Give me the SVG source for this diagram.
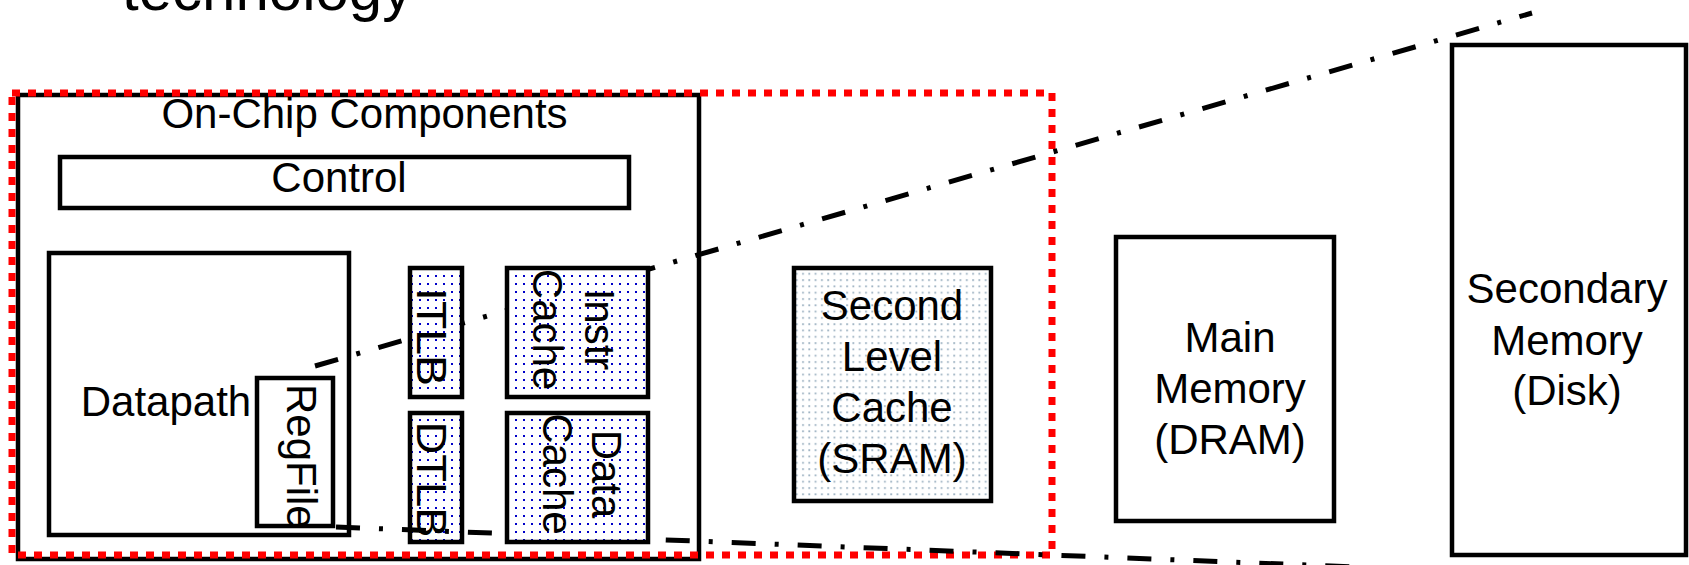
<svg xmlns="http://www.w3.org/2000/svg" width="1689" height="565" viewBox="0 0 1689 565">
<style>
  .box{fill:#ffffff;stroke:#000000;stroke-width:4.5}
  .dotbox{fill:url(#bluedots);stroke:#000000;stroke-width:4.5}
  .l2box{fill:url(#graydots);stroke:#000000;stroke-width:4.5}
  .t{font-family:"Liberation Sans",Arial,sans-serif;font-size:42px;fill:#000000}
  .m{text-anchor:middle}
  .link{fill:none;stroke:#000000;stroke-width:5;stroke-dasharray:24 19 4 19}
  .redframe{fill:none;stroke:#ff0000;stroke-width:7;stroke-dasharray:8 8}
</style>
<defs>
  <pattern id="bluedots" x="0" y="0" width="8" height="8" patternUnits="userSpaceOnUse">
    <rect width="8" height="8" fill="#ffffff"/>
    <rect x="3" y="3" width="2" height="2" fill="#0000c8"/>
  </pattern>
  <pattern id="graydots" x="0" y="0" width="6.3" height="6.3" patternUnits="userSpaceOnUse">
    <rect width="6.3" height="6.3" fill="#ffffff"/>
    <rect x="2" y="2" width="1.8" height="1.8" fill="#9db2c2"/>
  </pattern>
</defs>
<rect width="1689" height="565" fill="#ffffff"/>

<g id="title">
  <text x="122" y="10" style="font-family:'Liberation Sans',Arial,sans-serif;font-size:60px;fill:#000">technology</text>
</g>

<g id="on-chip">
  <rect class="box" x="18" y="95" width="681" height="464" style="fill:none"/>
  <text class="t m" x="364.5" y="128">On-Chip Components</text>
</g>

<g id="chip-boundary">
  <rect class="redframe" x="12" y="93" width="1040" height="462"/>
</g>

<g id="control">
  <rect class="box" x="60" y="157" width="569" height="51"/>
  <text class="t m" x="339" y="192">Control</text>
</g>

<g id="datapath">
  <rect class="box" x="49" y="253" width="300" height="282"/>
  <text class="t m" x="166" y="416">Datapath</text>
</g>

<g id="regfile">
  <rect class="box" x="257" y="378" width="76" height="148"/>
  <text class="t" x="287" y="384" transform="rotate(90 287 384)">RegFile</text>
</g>

<g id="dtlb">
  <rect class="dotbox" x="410" y="413" width="52" height="129"/>
  <text class="t" x="417" y="421.5" textLength="116" lengthAdjust="spacingAndGlyphs" transform="rotate(90 417 421.5)">DTLB</text>
</g>

<g id="connectors">
  <path class="link" d="M315,366 L1532,13"/>
  <path class="link" d="M336,527 L1460,571"/>
</g>

<g id="itlb">
  <rect class="dotbox" x="410" y="268" width="52" height="129"/>
  <text class="t" x="417" y="288" textLength="98" lengthAdjust="spacingAndGlyphs" transform="rotate(90 417 288)">ITLB</text>
</g>

<g id="instr-cache">
  <rect class="dotbox" x="507" y="268" width="141" height="129"/>
  <text class="t m" x="585" y="329.5" transform="rotate(90 585 329.5)">Instr</text>
  <text class="t m" x="533" y="329.5" transform="rotate(90 533 329.5)">Cache</text>
</g>

<g id="data-cache">
  <rect class="dotbox" x="507" y="413" width="141" height="129"/>
  <text class="t m" x="592" y="474" transform="rotate(90 592 474)">Data</text>
  <text class="t m" x="543" y="474" transform="rotate(90 543 474)">Cache</text>
</g>

<g id="second-level-cache">
  <rect class="l2box" x="794" y="268" width="197" height="233"/>
  <text class="t m" x="892" y="320">Second</text>
  <text class="t m" x="892" y="371">Level</text>
  <text class="t m" x="892" y="422">Cache</text>
  <text class="t m" x="892" y="473">(SRAM)</text>
</g>

<g id="main-memory">
  <rect class="box" x="1116" y="237" width="218" height="284"/>
  <text class="t m" x="1230" y="352">Main</text>
  <text class="t m" x="1230" y="403">Memory</text>
  <text class="t m" x="1230" y="454">(DRAM)</text>
</g>

<g id="secondary-memory">
  <rect class="box" x="1452" y="45" width="234" height="510"/>
  <text class="t m" x="1567" y="303">Secondary</text>
  <text class="t m" x="1567" y="355">Memory</text>
  <text class="t m" x="1567" y="405">(Disk)</text>
</g>
</svg>
